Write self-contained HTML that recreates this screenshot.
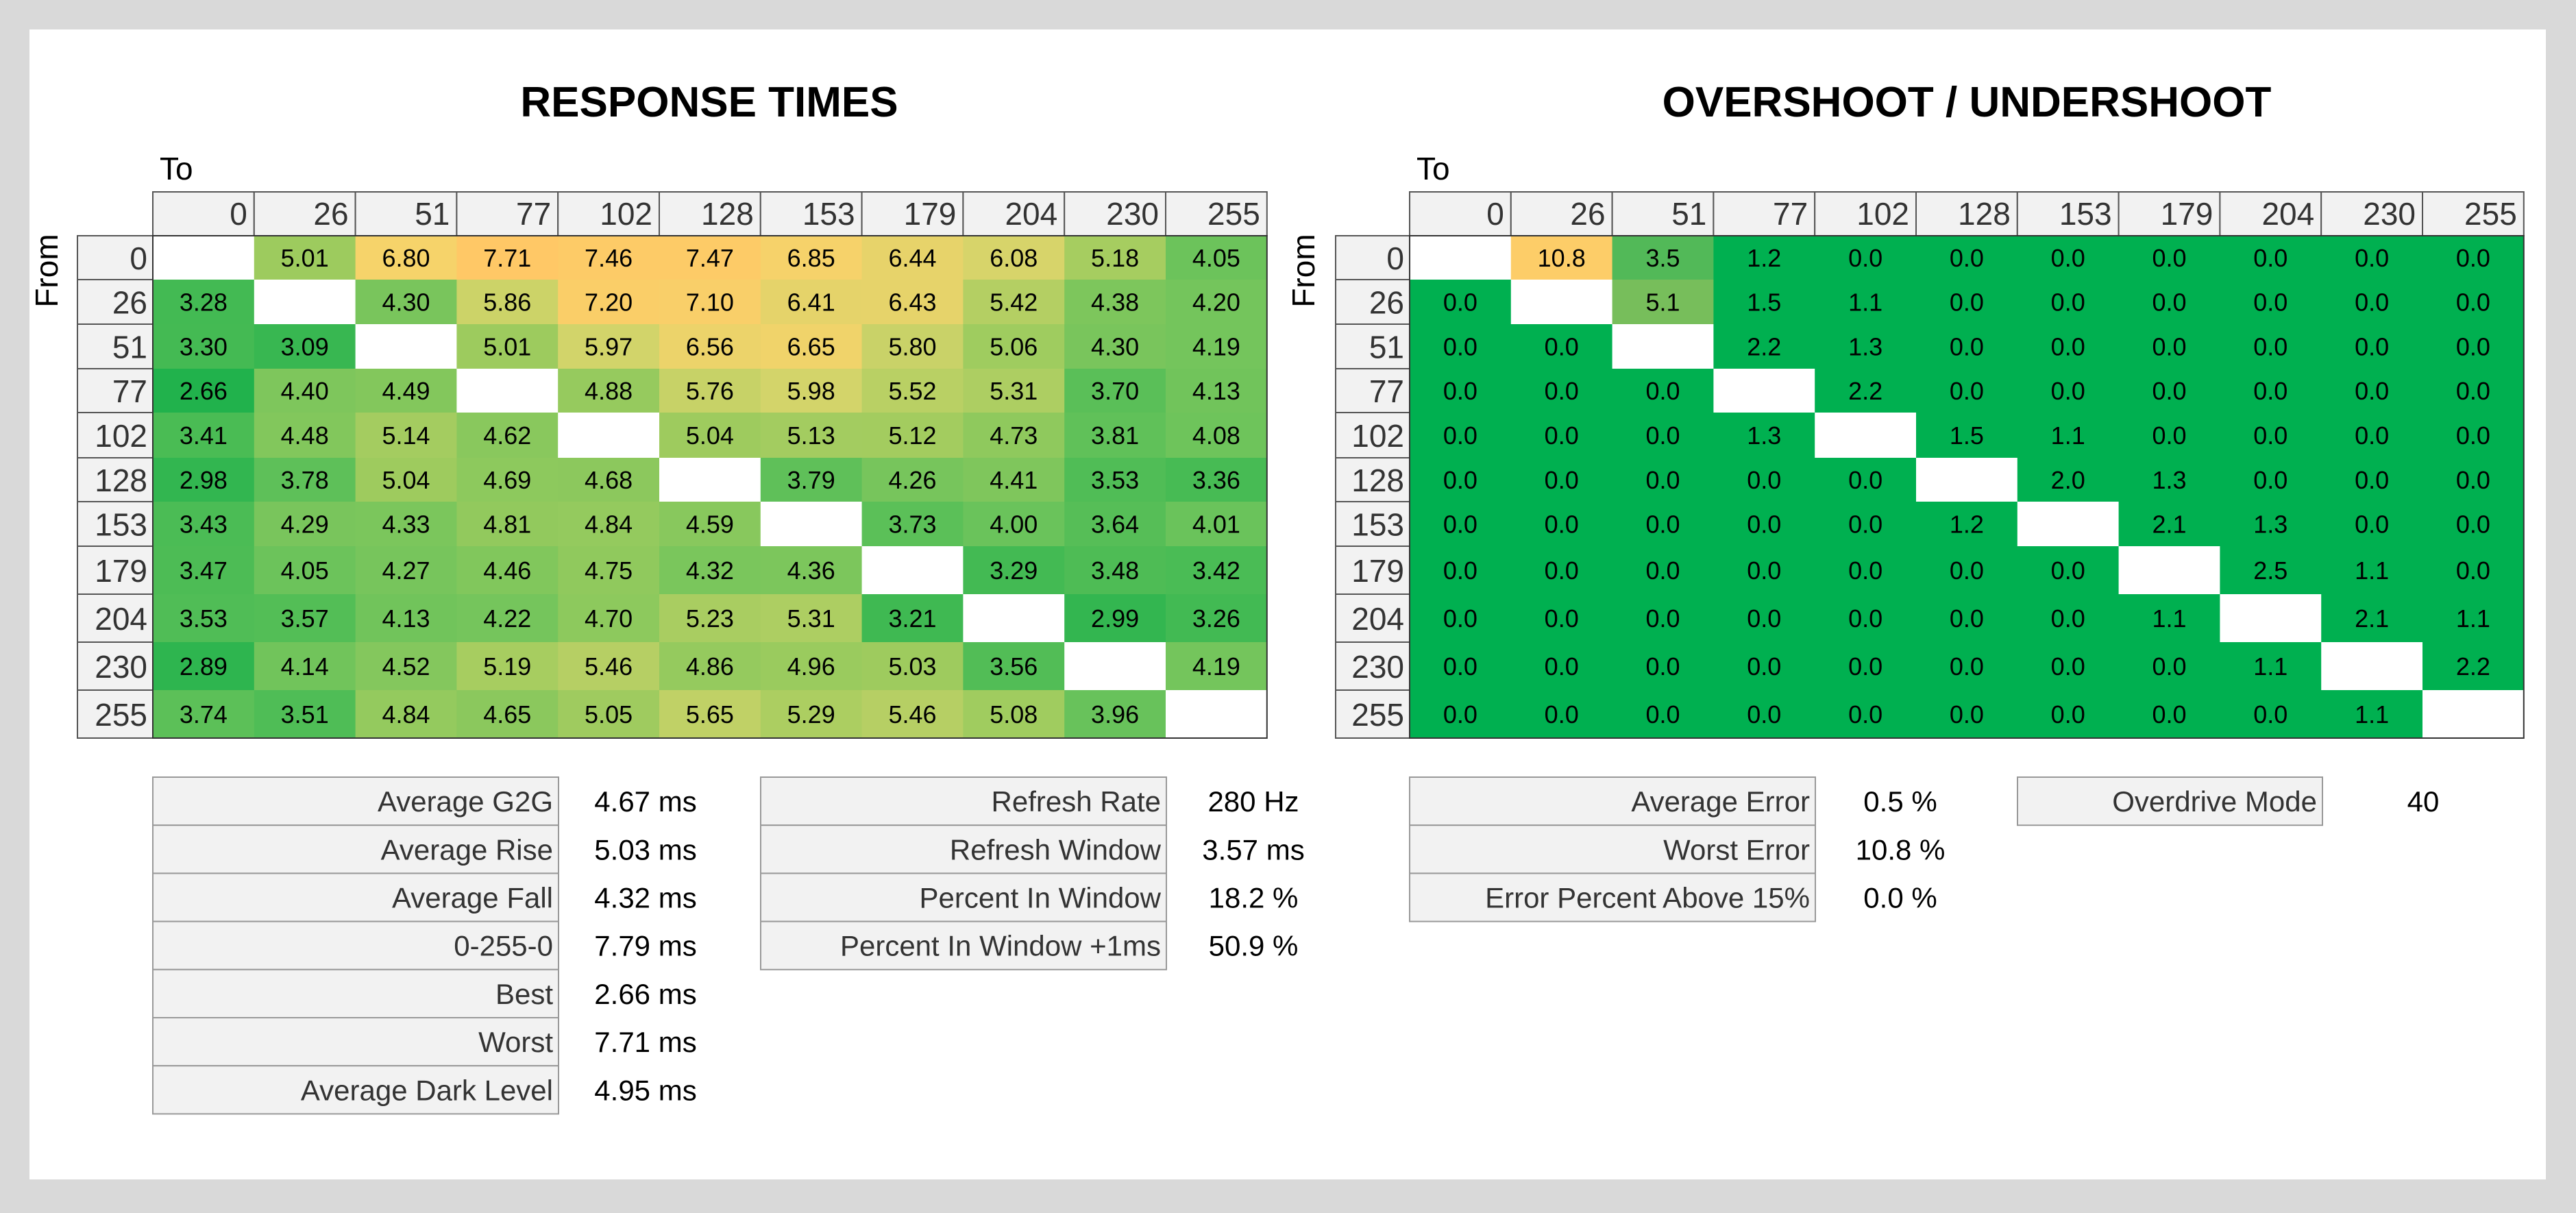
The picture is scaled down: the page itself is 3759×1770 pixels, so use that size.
<!DOCTYPE html>
<html><head><meta charset="utf-8">
<style>
html,body{margin:0;padding:0;background:#d9d9d9;}
svg{display:block;font-family:"Liberation Sans",sans-serif;}
</style></head>
<body>
<svg id="chart" width="3759" height="1770" viewBox="0 0 3759 1770" xmlns="http://www.w3.org/2000/svg">
<rect x="0" y="0" width="3759" height="1770" fill="#d9d9d9"/>
<rect x="43" y="43" width="3672" height="1678" fill="#ffffff"/>
<text x="1035" y="170" text-anchor="middle" font-size="62" font-weight="bold" fill="#000">RESPONSE TIMES</text>
<text x="2870" y="170" text-anchor="middle" font-size="62" font-weight="bold" fill="#000">OVERSHOOT / UNDERSHOOT</text>
<g id="g"></g>
</svg>
<script>
const levels = ["0","26","51","77","102","128","153","179","204","230","255"];
const respTimes = [
[null,5.01,6.80,7.71,7.46,7.47,6.85,6.44,6.08,5.18,4.05],
[3.28,null,4.30,5.86,7.20,7.10,6.41,6.43,5.42,4.38,4.20],
[3.30,3.09,null,5.01,5.97,6.56,6.65,5.80,5.06,4.30,4.19],
[2.66,4.40,4.49,null,4.88,5.76,5.98,5.52,5.31,3.70,4.13],
[3.41,4.48,5.14,4.62,null,5.04,5.13,5.12,4.73,3.81,4.08],
[2.98,3.78,5.04,4.69,4.68,null,3.79,4.26,4.41,3.53,3.36],
[3.43,4.29,4.33,4.81,4.84,4.59,null,3.73,4.00,3.64,4.01],
[3.47,4.05,4.27,4.46,4.75,4.32,4.36,null,3.29,3.48,3.42],
[3.53,3.57,4.13,4.22,4.70,5.23,5.31,3.21,null,2.99,3.26],
[2.89,4.14,4.52,5.19,5.46,4.86,4.96,5.03,3.56,null,4.19],
[3.74,3.51,4.84,4.65,5.05,5.65,5.29,5.46,5.08,3.96,null]];
const overshoot = [
[null,10.8,3.5,1.2,0,0,0,0,0,0,0],
[0,null,5.1,1.5,1.1,0,0,0,0,0,0],
[0,0,null,2.2,1.3,0,0,0,0,0,0],
[0,0,0,null,2.2,0,0,0,0,0,0],
[0,0,0,1.3,null,1.5,1.1,0,0,0,0],
[0,0,0,0,0,null,2.0,1.3,0,0,0],
[0,0,0,0,0,1.2,null,2.1,1.3,0,0],
[0,0,0,0,0,0,0,null,2.5,1.1,0],
[0,0,0,0,0,0,0,1.1,null,2.1,1.1],
[0,0,0,0,0,0,0,0,1.1,null,2.2],
[0,0,0,0,0,0,0,0,0,1.1,null]];
const statsLeftLabels = ["Average G2G","Average Rise","Average Fall","0-255-0","Best","Worst","Average Dark Level"];
const statsLeftValues = ["4.67 ms","5.03 ms","4.32 ms","7.79 ms","2.66 ms","7.71 ms","4.95 ms"];
const statsMidLabels = ["Refresh Rate","Refresh Window","Percent In Window","Percent In Window +1ms"];
const statsMidValues = ["280 Hz","3.57 ms","18.2 %","50.9 %"];
const statsRightLabels = ["Average Error","Worst Error","Error Percent Above 15%"];
const statsRightValues = ["0.5 %","10.8 %","0.0 %"];
const odLabels = ["Overdrive Mode"];
const odValues = ["40"];

const NS="http://www.w3.org/2000/svg";
const G=document.getElementById('g');
function el(t,a,txt){const e=document.createElementNS(NS,t);for(const k in a)e.setAttribute(k,a[k]);if(txt!=null)e.textContent=txt;G.appendChild(e);return e;}
const rowB=[344,408,473,538,602,668,732,797,867,937,1007,1077];
const colW=147.8;
function hex(c){return [parseInt(c.slice(1,3),16),parseInt(c.slice(3,5),16),parseInt(c.slice(5,7),16)];}
function mix(a,b,t){const A=hex(a),B=hex(b);return 'rgb('+A.map((v,i)=>Math.round(v+(B[i]-v)*t)).join(',')+')';}
const rtStops=[[2.66,'#21b24c'],[4.0,'#6ac35b'],[5.0,'#9ccb5e'],[6.0,'#d4d46a'],[6.8,'#f6d36a'],[7.71,'#ffc866']];
function rtColor(v){if(v<=rtStops[0][0])return rtStops[0][1];for(let i=1;i<rtStops.length;i++){if(v<=rtStops[i][0]){const t=(v-rtStops[i-1][0])/(rtStops[i][0]-rtStops[i-1][0]);return mix(rtStops[i-1][1],rtStops[i][1],t);}}return rtStops[rtStops.length-1][1];}
function osColor(v){if(v<2.6)return '#00b050';return mix('#00b050','#fdcd68',Math.min(1,v/10.8));}

function heatmap(x0,labX,data,colorFn,fmt,prefix,fromX){
  let e=el('text',{x:x0+10,y:262,'font-size':46,fill:'#000'},'To');
  
  
  e=el('text',{x:fromX,y:395,'font-size':46,fill:'#000','text-anchor':'middle',transform:'rotate(-90 '+fromX+' 395)'},'From');
  
  
  levels.forEach((l,j)=>{
    const cx=x0+j*colW;
    e=el('rect',{x:cx,y:280,width:colW,height:64,fill:'#f2f2f2',stroke:'#555','stroke-width':2});
    
    
    e=el('text',{x:cx+colW-10,y:328,'text-anchor':'end','font-size':46,fill:'#333'},l);
    
    
  });
  levels.forEach((l,i)=>{
    const y=rowB[i],h=rowB[i+1]-rowB[i];
    e=el('rect',{x:labX,y:y,width:x0-labX,height:h,fill:'#f2f2f2',stroke:'#555','stroke-width':2});
    
    
    e=el('text',{x:x0-8,y:y+h/2+17,'text-anchor':'end','font-size':46,fill:'#333'},l);
    
    
    data[i].forEach((v,j)=>{
      const cx=x0+j*colW;
      e=el('rect',{x:cx,y:y,width:colW+0.5,height:h+0.5,fill:v==null?'#ffffff':colorFn(v)});
      
      
      if(v!=null){
        e=el('text',{x:cx+colW/2,y:y+h/2+13,'text-anchor':'middle','font-size':36,fill:'#000'},fmt(v));
        
        
      }
    });
  });
  e=el('rect',{x:x0,y:rowB[0],width:colW*11,height:rowB[11]-rowB[0],fill:'none',stroke:'#333','stroke-width':2});
  
  
}
heatmap(223,113,respTimes,rtColor,v=>v.toFixed(2),'rt',84);
heatmap(2057,1949,overshoot,osColor,v=>v.toFixed(1),'os',1918);

function statTable(x,w,vcx,labels,values,prefix){
  const y0=1134,rh=70.2;
  labels.forEach((l,i)=>{
    const y=y0+i*rh;
    let e=el('rect',{x:x,y:y,width:w,height:rh,fill:'#f2f2f2',stroke:'#999','stroke-width':2});
    
    
    e=el('text',{x:x+w-8,y:y+rh/2+15,'text-anchor':'end','font-size':42,fill:'#333'},l);
    
    
    e=el('text',{x:vcx,y:y+rh/2+15,'text-anchor':'middle','font-size':42,fill:'#000'},values[i]);
    
    
  });
}
statTable(223,592,942,statsLeftLabels,statsLeftValues,'rt-stat');
statTable(1110,592,1829,statsMidLabels,statsMidValues,'refresh-stat');
statTable(2057,592,2773,statsRightLabels,statsRightValues,'error-stat');
statTable(2944,445,3536,odLabels,odValues,'overdrive-stat');
</script>
</body></html>
